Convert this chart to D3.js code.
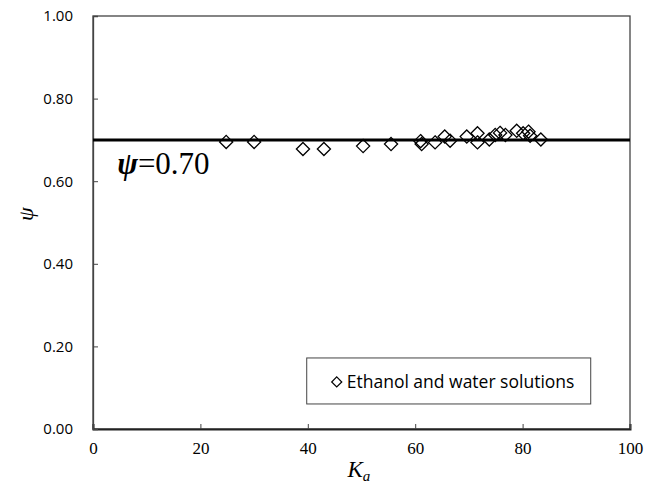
<!DOCTYPE html>
<html>
<head>
<meta charset="utf-8">
<script src="https://cdn.jsdelivr.net/npm/d3@7"></script>
<style>
  body { margin: 0; background: #fff; }
  svg { display: block; }
</style>
</head>
<body>
<div id="chart"></div>
<script>
// values
const kaValues = [24.8, 30.0, 39.1, 43.0, 50.3, 55.5, 61.0, 61.2, 63.7, 65.5, 66.5, 69.6, 71.6, 71.6,
  73.8, 74.9, 75.8, 76.8, 78.9, 80.1, 81.1, 81.4, 83.4];
const psiValues = [0.695, 0.695, 0.678, 0.678, 0.685, 0.690, 0.697, 0.690, 0.694, 0.708, 0.698, 0.708, 0.716, 0.694,
  0.701, 0.712, 0.717, 0.712, 0.722, 0.716, 0.720, 0.710, 0.701];
const xTicks = [0, 20, 40, 60, 80, 100];
const yTicks = [0, 0.2, 0.4, 0.6, 0.8, 1.0];
const refPsi = 0.70;
const legendLabel = 'Ethanol and water solutions';

const data = kaValues.map((k, i) => ({ka: k, psi: psiValues[i]}));

const W = 657, H = 485;
const margin = {t: 16, r: 27, b: 56, l: 93};
const w = W - margin.l - margin.r;
const h = H - margin.t - margin.b;

const svg = d3.select('#chart').append('svg')
  .attr('width', W)
  .attr('height', H);

const plot = svg.append('g')
  .attr('transform', `translate(${margin.l},${margin.t})`);

const scaleX = d3.scaleLinear().domain([0, 100]).range([0, w]);
const scaleY = d3.scaleLinear().domain([0, 1]).range([h, 0]);

// frame
plot.append('rect')
  .attr('width', w).attr('height', h)
  .attr('fill', 'none')
  .attr('stroke', '#444')
  .attr('stroke-width', 1.3);

// x axis
const axisX = d3.axisBottom(scaleX).tickValues(xTicks).tickSize(-5).tickPadding(13)
  .tickFormat(d3.format('d'));
const gx = plot.append('g')
  .attr('transform', `translate(0,${h})`)
  .call(axisX);
gx.select('.domain').attr('stroke', '#222').attr('stroke-width', 2);
gx.selectAll('.tick line').attr('stroke', '#444');
gx.selectAll('text')
  .attr('font-family', '"Liberation Serif", "DejaVu Serif", serif')
  .attr('font-size', 17)
  .attr('fill', '#000');

// y axis
const axisY = d3.axisLeft(scaleY).tickValues(yTicks).tickSize(-5).tickPadding(20)
  .tickFormat(d3.format('.2f'));
const gy = plot.append('g').call(axisY);
gy.select('.domain').attr('stroke', '#444').attr('stroke-width', 1.3);
gy.selectAll('.tick line').attr('stroke', '#444');
gy.selectAll('text')
  .attr('font-family', '"Open Sans", "Noto Sans", sans-serif')
  .attr('font-size', 15)
  .attr('fill', '#000');

// reference line
plot.append('line')
  .attr('x1', 0).attr('x2', w)
  .attr('y1', scaleY(refPsi)).attr('y2', scaleY(refPsi))
  .attr('stroke', '#000')
  .attr('stroke-width', 3);

const refLabel = plot.append('text')
  .attr('x', scaleX(4.5))
  .attr('y', scaleY(refPsi) + 34)
  .attr('font-family', '"Liberation Serif", "DejaVu Serif", serif')
  .attr('font-size', 31)
  .attr('fill', '#000');
refLabel.append('tspan').attr('font-style', 'italic').attr('font-weight', 'bold').text('ψ');
refLabel.append('tspan').text('=0.70');

// points
const diamond = d3.symbol().type(d3.symbolDiamond2).size(110);
plot.selectAll('.pt')
  .data(data)
  .join('path')
  .attr('class', 'pt')
  .attr('transform', d => `translate(${scaleX(d.ka)},${scaleY(d.psi)})`)
  .attr('d', diamond)
  .attr('fill', 'none')
  .attr('stroke', '#000')
  .attr('stroke-width', 1.3);

// legend
const lg = plot.append('g')
  .attr('transform', `translate(${scaleX(39.8)},${scaleY(0.172)})`);
lg.append('rect')
  .attr('width', 284).attr('height', 46)
  .attr('fill', '#fff')
  .attr('stroke', '#444')
  .attr('stroke-width', 1);
lg.append('path')
  .attr('transform', 'translate(30,24)')
  .attr('d', d3.symbol().type(d3.symbolDiamond2).size(65)())
  .attr('fill', 'none')
  .attr('stroke', '#000')
  .attr('stroke-width', 1.2);
lg.append('text')
  .attr('x', 40).attr('y', 30)
  .attr('font-family', '"Open Sans", "Noto Sans", sans-serif')
  .attr('font-size', 17.5)
  .attr('fill', '#000')
  .text(legendLabel);

// axis titles
const xt = svg.append('text')
  .attr('x', margin.l + scaleX(49.5))
  .attr('y', 477)
  .attr('font-family', '"Liberation Serif", "DejaVu Serif", serif')
  .attr('font-style', 'italic')
  .attr('font-size', 23)
  .attr('fill', '#000')
  .attr('text-anchor', 'middle');
xt.append('tspan').text('K');
xt.append('tspan').attr('font-size', 15).attr('dy', 4).text('a');

svg.append('text')
  .attr('transform', `translate(33,${margin.t + scaleY(0.52)}) rotate(-90)`)
  .attr('font-family', '"Liberation Serif", "DejaVu Serif", serif')
  .attr('font-style', 'italic')
  .attr('font-size', 22)
  .attr('fill', '#000')
  .attr('text-anchor', 'middle')
  .text('ψ');
</script>
</body>
</html>
